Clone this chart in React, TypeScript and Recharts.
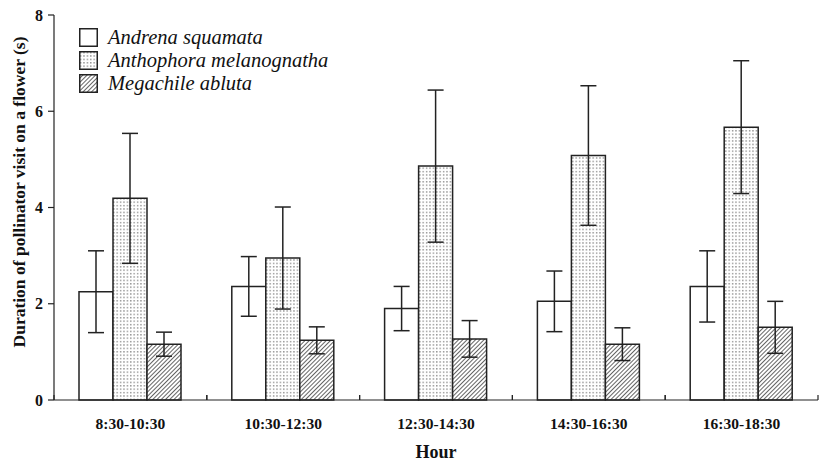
import React from 'react';
import { BarChart, Bar, XAxis, YAxis, ErrorBar, Legend, Label } from 'recharts';

const hours = ['8:30-10:30', '10:30-12:30', '12:30-14:30', '14:30-16:30', '16:30-18:30'];
const andrena = [2.25, 2.36, 1.9, 2.05, 2.36];
const andrenaSd = [0.85, 0.62, 0.46, 0.63, 0.74];
const anthophora = [4.19, 2.95, 4.86, 5.08, 5.67];
const anthophoraSd = [1.35, 1.06, 1.58, 1.45, 1.38];
const megachile = [1.16, 1.24, 1.27, 1.16, 1.51];
const megachileSd = [0.25, 0.28, 0.38, 0.34, 0.54];
const yTicks = [0, 2, 4, 6, 8];

const species = [
  { key: 'andrena', name: 'Andrena squamata', fill: '#fff' },
  { key: 'anthophora', name: 'Anthophora melanognatha', fill: 'url(#dots)' },
  { key: 'megachile', name: 'Megachile abluta', fill: 'url(#hatch)' },
];

const data = hours.map((h, i) => ({
  hour: h,
  andrena: andrena[i],
  andrenaSd: andrenaSd[i],
  anthophora: anthophora[i],
  anthophoraSd: anthophoraSd[i],
  megachile: megachile[i],
  megachileSd: megachileSd[i],
}));

const serif = '"Liberation Serif", "Times New Roman", serif';
const ink = '#222';

function HourTick(props: any) {
  const { x, y, payload, width, visibleTicksCount } = props;
  const band = width / visibleTicksCount;
  return (
    <g>
      <line x1={x - band / 2} x2={x - band / 2} y1={y - 5} y2={y} stroke={ink} strokeWidth={1.2} />
      <line x1={x + band / 2} x2={x + band / 2} y1={y - 5} y2={y} stroke={ink} strokeWidth={1.2} />
      <text x={x} y={y + 29} textAnchor="middle" fontFamily={serif} fontWeight="bold" fontSize={15.5} fill="#111">
        {payload.value}
      </text>
    </g>
  );
}

function SpeciesLegend() {
  return (
    <div style={{ fontFamily: serif, fontStyle: 'italic', fontSize: 20.5, color: '#111', lineHeight: 1 }}>
      {species.map((s) => (
        <div key={s.key} style={{ display: 'flex', alignItems: 'center', height: 23 }}>
          <svg width={19} height={19} style={{ marginRight: 10 }}>
            <rect x={0.75} y={0.75} width={17.5} height={17.5} fill={s.fill} stroke={ink} strokeWidth={1.5} />
          </svg>
          <span>{s.name}</span>
        </div>
      ))}
    </div>
  );
}

export default function App() {
  return (
    <div style={{ position: 'absolute', left: 0, top: 0, background: '#fff' }}>
      <BarChart width={822} height={461} data={data} barGap={0} margin={{ top: 15, right: 4, left: 0, bottom: 31 }}>
        <defs>
          <pattern id="dots" width={3.4} height={3.4} patternUnits="userSpaceOnUse">
            <rect width={3.4} height={3.4} fill="#fff" />
            <rect x={1} y={1} width={1.2} height={1.2} fill="#666" />
          </pattern>
          <pattern id="hatch" width={3} height={3} patternUnits="userSpaceOnUse" patternTransform="rotate(45)">
            <rect width={3} height={3} fill="#fff" />
            <line x1={0} y1={0} x2={0} y2={3} stroke="#222" strokeWidth={1.4} />
          </pattern>
        </defs>
        <XAxis
          dataKey="hour"
          stroke={ink}
          strokeWidth={1.2}
          tickLine={false}
          tickSize={0}
          tickMargin={0}
          height={30}
          interval={0}
          tick={<HourTick />}
        >
          <Label
            content={({ viewBox }: any) => (
              <text
                x={viewBox.x + viewBox.width / 2}
                y={458}
                textAnchor="middle"
                fontFamily={serif}
                fontWeight="bold"
                fontSize={18}
                fill="#111"
              >
                Hour
              </text>
            )}
          />
        </XAxis>
        <YAxis
          domain={[0, 8]}
          ticks={yTicks}
          width={54}
          stroke={ink}
          strokeWidth={1.2}
          tickSize={6}
          tickMargin={5}
          tick={{ fontFamily: serif, fontWeight: 'bold', fontSize: 16, fill: '#111' }}
        >
          <Label
            content={() => (
              <text
                x={25}
                y={192}
                transform="rotate(-90 25 192)"
                textAnchor="middle"
                fontFamily={serif}
                fontWeight="bold"
                fontSize={17.5}
                fill="#111"
              >
                Duration of pollinator visit on a flower (s)
              </text>
            )}
          />
        </YAxis>
        <Legend
          layout="vertical"
          align="center"
          verticalAlign="middle"
          wrapperStyle={{ top: 26, left: 79, width: 'auto' }}
          content={<SpeciesLegend />}
        />
        {species.map((s) => (
          <Bar
            key={s.key}
            dataKey={s.key}
            name={s.name}
            fill={s.fill}
            stroke={ink}
            strokeWidth={1.5}
            barSize={34}
            isAnimationActive={false}
          >
            <ErrorBar dataKey={`${s.key}Sd`} width={8} stroke={ink} strokeWidth={1.5} />
          </Bar>
        ))}
      </BarChart>
    </div>
  );
}
